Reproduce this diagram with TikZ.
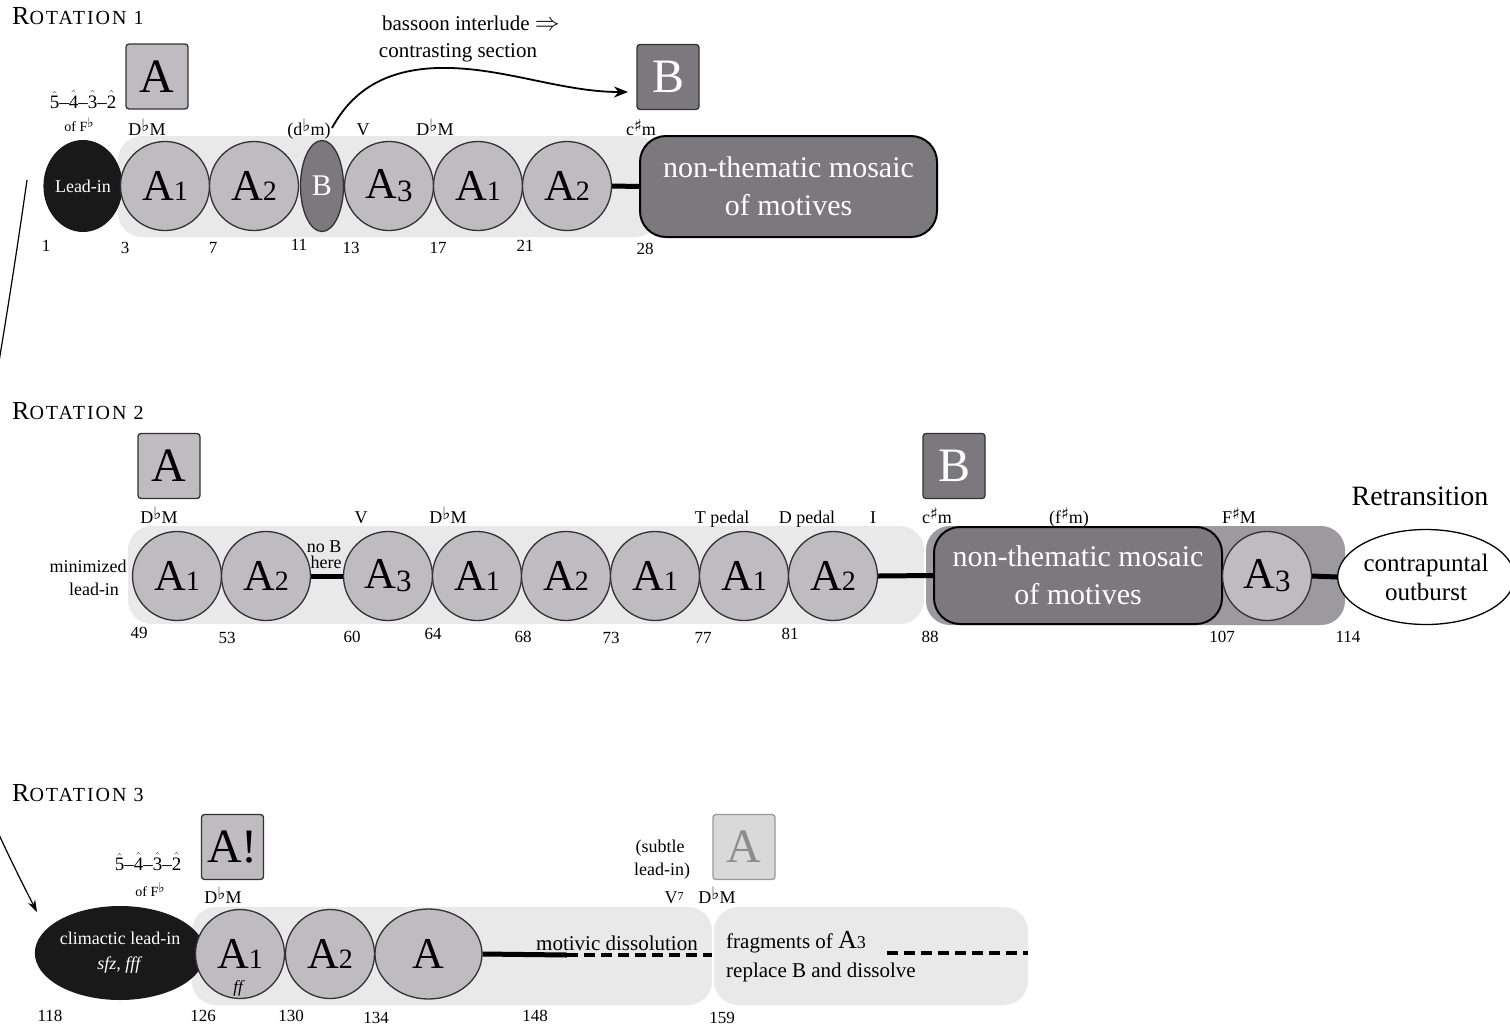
\documentclass[tikz,border=0pt]{standalone}
\usepackage{fontspec}
\setmainfont{Liberation Serif}
\newfontfamily\scfont[LetterSpace=10]{Liberation Serif}
\newfontfamily\symfont{DejaVu Sans}
\usetikzlibrary{shapes.geometric,arrows.meta}
\newcommand\myfs[1]{\fontsize{#1}{#1}\selectfont}
\newcommand\myflat{\raisebox{0.22em}{\scalebox{0.95}{\symfont ♭}}}
\newcommand\mysharp{\raisebox{0.22em}{\scalebox{0.9}{\symfont ♯}}}
\newcommand\hatd[1]{\ensuremath{\hat{\mbox{#1}}}}
\newcommand\Aone{A{\myfs{28}1}}
\newcommand\Atwo{A{\myfs{28}2}}
\newcommand\Athree{A\raisebox{-3pt}{\myfs{31}3}}
\newcommand\rottitle[1]{{\myfs{26}R}{\scfont\myfs{20}OTATION\ #1}}
\newcommand\hats{\hatd{5}--\hatd{4}--\hatd{3}--\hatd{2}}
\definecolor{cfill}{RGB}{190,188,193}
\definecolor{cdark}{RGB}{124,121,126}
\definecolor{cmid}{RGB}{156,154,158}
\definecolor{cband}{RGB}{233,233,233}
\definecolor{cline}{RGB}{50,50,50}
\definecolor{cfade}{RGB}{217,217,217}
\begin{document}
\begin{tikzpicture}[x=1pt,y=-1pt,
  circ/.style={circle, draw=cline, line width=1.3pt, fill=cfill, minimum size=89pt, inner sep=0pt, font=\myfs{44}},
  sbox/.style={rectangle, rounded corners=3pt, draw=cline, line width=1.3pt, fill=cfill, minimum width=62pt, minimum height=65pt, inner sep=0pt, font=\myfs{48}},
  dbox/.style={sbox, fill=cdark, text=white},
  mosaic/.style={rectangle, rounded corners=26pt, draw=black, line width=2pt, fill=cdark, text=white, font=\fontsize{30}{38}\selectfont, align=center, inner sep=0pt},
  lbl/.style={anchor=base, font=\myfs{18}, inner sep=0pt},
  small/.style={anchor=base, font=\myfs{14}, inner sep=0pt},
  num/.style={font=\myfs{17}, inner sep=0pt},
  conn/.style={line width=5pt, black},
  dconn/.style={line width=4.5pt, black, dash pattern=on 11pt off 6pt},
  band/.style={fill=cband, rounded corners=24pt},
  ttl/.style={anchor=base west, inner sep=0pt},
  blackell/.style={ellipse, fill=black!90, inner sep=0pt, text=white, font=\myfs{18}, align=center}
]
\fill[white] (0,0) rectangle (1510,1029);
\useasboundingbox (0,0) rectangle (1510,1029);

% ---------------- Rotation 1 ----------------
\node[ttl] (t1) at (12,24) {\rottitle{1}};
\fill[band] (118,136) rectangle (660,237);
\node[blackell, minimum width=70pt, minimum height=92pt] (lead1) at (83,186) {Lead-in};
\node[circ] (r1a1) at (165,186) {\Aone};
\node[circ] (r1a2) at (254,186) {\Atwo};
\node[ellipse, draw=cline, line width=1.3pt, fill=cdark, minimum width=43pt, minimum height=91pt, inner sep=0pt, text=white, font=\myfs{30}] (r1b) at (322,186) {B};
\node[circ] (r1a3) at (389,186) {\Athree};
\node[circ] (r1a1b) at (478,186) {\Aone};
\node[circ] (r1a2b) at (567,186) {\Atwo};
\node[mosaic, minimum width=297pt, minimum height=101pt] (mos1) at (788.5,186.5) {non-thematic mosaic\\of motives};
\draw[conn] (r1a2b.east) -- (mos1.west);

\node[sbox] (boxA1) at (157,76.5) {A};
\node[dbox] (boxB1) at (668,77) {B};

\node[lbl, font=\myfs{19}] (h1) at (83,108) {\hats};
\node[small] (of1) at (79,131) {of F\myflat};
\node[lbl] (k1) at (147,135) {D\myflat M};
\node[lbl] (k2) at (309,135) {(d\myflat m)};
\node[lbl] (k3) at (363,135) {V};
\node[lbl] (k4) at (435,135) {D\myflat M};
\node[lbl] (k5) at (641,135) {c\mysharp m};

\node[num] (n1) at (46,246) {1};
\node[num] (n3) at (125,248) {3};
\node[num] (n7) at (213,248) {7};
\node[num] (n11) at (299,245) {11};
\node[num] (n13) at (351,248) {13};
\node[num] (n17) at (438,248) {17};
\node[num] (n21) at (525,246) {21};
\node[num] (n28) at (645,249) {28};

\node[lbl, font=\myfs{21}] (bas1) at (471,30) {bassoon interlude {\myfs{26}$\Rightarrow$}};
\node[lbl, font=\myfs{21}] (bas2) at (458,57) {contrasting section};
\coordinate (arrS) at (332,128);
\coordinate (arrE) at (628,92);
\draw[line width=1.8pt, -{Stealth[length=14pt,width=11pt]}] (arrS) .. controls (350,95) and (380,70) .. (437,68) .. controls (500,66) and (560,92) .. (arrE);

% long arrow from rotation 1 to rotation 3
\coordinate (lS) at (27,180);
\coordinate (lE) at (37,912);
\draw[line width=1.2pt, -{Stealth[length=12pt,width=8pt]}] (lS) .. controls (-44,680) and (-91,662) .. (lE);

% ---------------- Rotation 2 ----------------
\node[ttl] (t2) at (12,419) {\rottitle{2}};
\fill[band] (128,526) rectangle (924,624);
\fill[cmid, rounded corners=24pt] (926,526) rectangle (1345,625);
\node[circ] (r2a1) at (177,576) {\Aone};
\node[circ] (r2a2) at (266,576) {\Atwo};
\node[circ] (r2a3) at (388,576) {\Athree};
\node[circ] (r2a1b) at (477,576) {\Aone};
\node[circ] (r2a2b) at (566,576) {\Atwo};
\node[circ] (r2a1c) at (655,576) {\Aone};
\node[circ] (r2a1d) at (744,576) {\Aone};
\node[circ] (r2a2c) at (833,576) {\Atwo};
\node[mosaic, minimum width=288pt, minimum height=97pt] (mos2) at (1078,575.5) {non-thematic mosaic\\of motives};
\node[circ] (r2a3b) at (1267,576) {\Athree};
\node[ellipse, draw=black, line width=1.3pt, fill=white, minimum width=166pt, minimum height=95pt, inner sep=0pt, font=\fontsize{25}{29}\selectfont, align=center] (outb) at (1426,577) {contrapuntal\\outburst};
\draw[conn] (r2a2.east) -- (r2a3.west);
\draw[conn] (r2a2c.east) -- (mos2.west);
\draw[conn] (r2a3b.east) -- (outb.west);

\node[sbox] (boxA2) at (169,466) {A};
\node[dbox] (boxB2) at (954,466) {B};
\node[lbl, font=\myfs{28}] (retr) at (1420,505) {Retransition};

\node[lbl] (m1) at (88,572) {minimized};
\node[lbl] (m2) at (94,595) {lead-in};
\node[lbl] (nb1) at (324,552) {no B};
\node[lbl] (nb2) at (326,568) {here};

\node[lbl] (q1) at (159,523) {D\myflat M};
\node[lbl] (q2) at (361,523) {V};
\node[lbl] (q3) at (448,523) {D\myflat M};
\node[lbl] (q4) at (722,523) {T pedal};
\node[lbl] (q5) at (807,523) {D pedal};
\node[lbl] (q6) at (873,523) {I};
\node[lbl] (q7) at (937,523) {c\mysharp m};
\node[lbl] (q8) at (1069,523) {(f\mysharp m)};
\node[lbl] (q9) at (1239,523) {F\mysharp M};

\node[num] (p49) at (139,633) {49};
\node[num] (p53) at (227,638) {53};
\node[num] (p60) at (352,637) {60};
\node[num] (p64) at (433,634) {64};
\node[num] (p68) at (523,637) {68};
\node[num] (p73) at (611,638) {73};
\node[num] (p77) at (703,638) {77};
\node[num] (p81) at (790,634) {81};
\node[num] (p88) at (930,637) {88};
\node[num] (p107) at (1222,637) {107};
\node[num] (p114) at (1348,637) {114};

% ---------------- Rotation 3 ----------------
\node[ttl] (t3) at (12,801) {\rottitle{3}};
\fill[band] (192,907) rectangle (712,1005);
\fill[band] (714,907) rectangle (1028,1005);
\node[blackell, minimum width=148pt, minimum height=94pt, font=\fontsize{18}{25}\selectfont] (lead3) at (120,953) {climactic lead-in\\\textit{sfz, fff}};
\node[circ] (r3a1) at (240,954) {\Aone};
\node[circ] (r3a2) at (330,954) {\Atwo};
\node[ellipse, draw=cline, line width=1.3pt, fill=cfill, minimum width=107pt, minimum height=90pt, inner sep=0pt, font=\myfs{44}] (r3a) at (428.5,954) {A};
\node[font=\myfs{17}\itshape, inner sep=0pt] (ff) at (238,988) {ff};
\coordinate (d1) at (567,955);
\coordinate (d2) at (712,955);
\coordinate (d3) at (887,953);
\coordinate (d4) at (1028,953);
\draw[conn] (r3a.east) -- (d1);
\draw[dconn] (d1) -- (d2);
\draw[dconn] (d3) -- (d4);

\node[sbox] (boxA3) at (232.5,847) {A!};
\node[sbox, fill=cfade, draw=black!40, text=black!45] (boxA4) at (744,847) {A};

\node[lbl, font=\myfs{19}] (h3) at (148,870) {\hats};
\node[small] (of3) at (150,896) {of F\myflat};
\node[lbl] (s1) at (223,903) {D\myflat M};
\node[lbl] (s2) at (660,852) {(subtle};
\node[lbl] (s3) at (662,875) {lead-in)};
\node[lbl] (s4) at (674,903) {V{\myfs{12}\raisebox{3pt}{7}}};
\node[lbl] (s5) at (717,903) {D\myflat M};

\node[lbl, font=\myfs{21}] (md) at (617,950) {motivic dissolution};
\node[lbl, font=\myfs{21}, anchor=base west] (fr1) at (726,948) {fragments of {\myfs{26}A}{\myfs{18}3}};
\node[lbl, font=\myfs{21}, anchor=base west] (fr2) at (726,977) {replace B and dissolve};

\node[num] (u118) at (50,1016) {118};
\node[num] (u126) at (203,1016) {126};
\node[num] (u130) at (291,1016) {130};
\node[num] (u134) at (376,1018) {134};
\node[num] (u148) at (535,1016) {148};
\node[num] (u159) at (722,1018) {159};
\end{tikzpicture}
\end{document}
